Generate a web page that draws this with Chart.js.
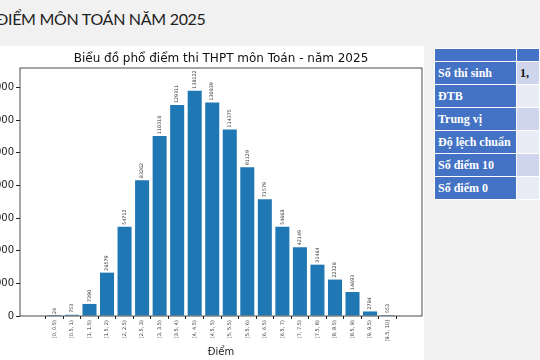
<!DOCTYPE html>
<html>
<head>
<meta charset="utf-8">
<script src="https://cdn.jsdelivr.net/npm/chart.js@4.4.1/dist/chart.umd.min.js"></script>
<style>
  html, body { margin: 0; padding: 0; }
  body { width: 540px; height: 360px; overflow: hidden; position: relative; background: #f1f1f1; font-family: "DejaVu Sans", sans-serif; }
  #header { position: absolute; left: -4px; top: 9px; font-family: "Lato", sans-serif; font-size: 16px; color: #222; letter-spacing: -0.3px; }
  #img { position: absolute; left: 0; top: 46px; width: 424px; height: 314px; background: #fff; }
  #wrap { position: absolute; left: -40px; top: 46px; width: 464px; height: 314px; }
  table { position: absolute; left: 434px; top: 48px; border-collapse: collapse; font-family: "Liberation Serif", serif; font-weight: bold; font-size: 12px; }
  td { border: 1px solid #fff; padding: 0 0 0 3px; height: 22px; white-space: nowrap; }
  td.k { background: #4472c4; color: #fff; width: 84px; }
  td.v { width: 30px; color: #111; }
  tr.h td { height: 12px; background: #4472c4; }
  tr.a td.v { background: #cfd5ea; }
  tr.b td.v { background: #e9ebf5; }
</style>
</head>
<body>
<div id="header">ĐIỂM MÔN TOÁN NĂM 2025</div>
<div id="img"></div>
<div id="wrap"><canvas id="chart"></canvas></div>
<table>
  <tr class="h"><td class="k"></td><td class="v"></td></tr>
  <tr class="a"><td class="k">Số thí sinh</td><td class="v">1,</td></tr>
  <tr class="b"><td class="k">ĐTB</td><td class="v"></td></tr>
  <tr class="a"><td class="k">Trung vị</td><td class="v"></td></tr>
  <tr class="b"><td class="k">Độ lệch chuẩn</td><td class="v"></td></tr>
  <tr class="a"><td class="k">Số điểm 10</td><td class="v"></td></tr>
  <tr class="b"><td class="k">Số điểm 0</td><td class="v"></td></tr>
</table>
<script>
// khoảng điểm
var khoang = ['[0, 0.5)', '[0.5, 1)', '[1, 1.5)', '[1.5, 2)', '[2, 2.5)', '[2.5, 3)', '[3, 3.5)', '[3.5, 4)',
  '[4, 4.5)', '[4.5, 5)', '[5, 5.5)', '[5.5, 6)', '[6, 6.5)', '[6.5, 7)', '[7, 7.5)', '[7.5, 8)',
  '[8, 8.5)', '[8.5, 9)', '[9, 9.5)', '[9.5, 10]'];
// số thí sinh mỗi khoảng
var soThiSinh = [24, 753, 7390, 26579, 54712, 83262, 110318, 129311, 138122, 130839,
  114375, 91129, 71579, 54668, 42149, 31464, 22328, 14693, 2784, 553];
var yTicks = [0, 20000, 40000, 60000, 80000, 100000, 120000, 140000];

var khung = {
  id: 'khung',
  afterDatasetsDraw: function(chart) {
    var ctx = chart.ctx, a = chart.chartArea;
    ctx.save();
    // viền trục
    ctx.strokeStyle = '#222';
    ctx.lineWidth = 0.8;
    ctx.strokeRect(a.left, a.top, a.right - a.left, a.bottom - a.top);
    // nhãn giá trị
    ctx.fillStyle = '#333';
    ctx.font = '4.8px "DejaVu Sans"';
    ctx.textAlign = 'left';
    ctx.textBaseline = 'middle';
    chart.getDatasetMeta(0).data.forEach(function(bar, i) {
      ctx.save();
      ctx.translate(bar.x, bar.y - 2);
      ctx.rotate(-Math.PI / 2);
      ctx.fillText(String(soThiSinh[i]), 0, 0);
      ctx.restore();
    });
    // tiêu đề
    ctx.fillStyle = '#111';
    ctx.font = '12px "DejaVu Sans"';
    ctx.textAlign = 'center';
    ctx.textBaseline = 'middle';
    ctx.fillText('Biểu đồ phổ điểm thi THPT môn Toán - năm 2025', (a.left + a.right) / 2, a.top - 9);
    ctx.restore();
  }
};

new Chart(document.getElementById('chart'), {
  type: 'bar',
  data: {
    datasets: [{
      data: soThiSinh.map(function(v, i) { return { x: i, y: v }; }),
      backgroundColor: '#1f77b4',
      barPercentage: 0.8,
      categoryPercentage: 1.0
    }]
  },
  options: {
    responsive: true,
    maintainAspectRatio: false,
    animation: false,
    layout: { padding: { top: 22, right: 2, left: 0, bottom: 0 } },
    plugins: { legend: { display: false }, tooltip: { enabled: false } },
    scales: {
      x: {
        type: 'linear',
        min: -1.39,
        max: 20.39,
        grid: { drawOnChartArea: false, drawTicks: true, tickLength: 3, color: '#222' },
        border: { display: false },
        afterBuildTicks: function(s) { s.ticks = khoang.map(function(_, i) { return { value: i }; }); },
        afterFit: function(s) { s.height = 44; },
        ticks: {
          autoSkip: false, minRotation: 90, maxRotation: 90, padding: 1,
          color: '#333', font: { size: 5, family: 'DejaVu Sans' },
          callback: function(v) { return khoang[v]; }
        },
        title: { display: true, text: 'Điểm', color: '#222', font: { size: 10, family: 'DejaVu Sans' }, padding: { top: 0, bottom: 2 } }
      },
      y: {
        min: 0,
        max: 152000,
        grid: { drawOnChartArea: false, drawTicks: true, tickLength: 4, color: '#222' },
        border: { display: false },
        afterBuildTicks: function(s) { s.ticks = yTicks.map(function(v) { return { value: v }; }); },
        afterFit: function(s) { s.width = 60; },
        ticks: { color: '#222', padding: 2, font: { size: 10, family: 'DejaVu Sans' } }
      }
    }
  },
  plugins: [khung]
});
</script>
</body>
</html>
